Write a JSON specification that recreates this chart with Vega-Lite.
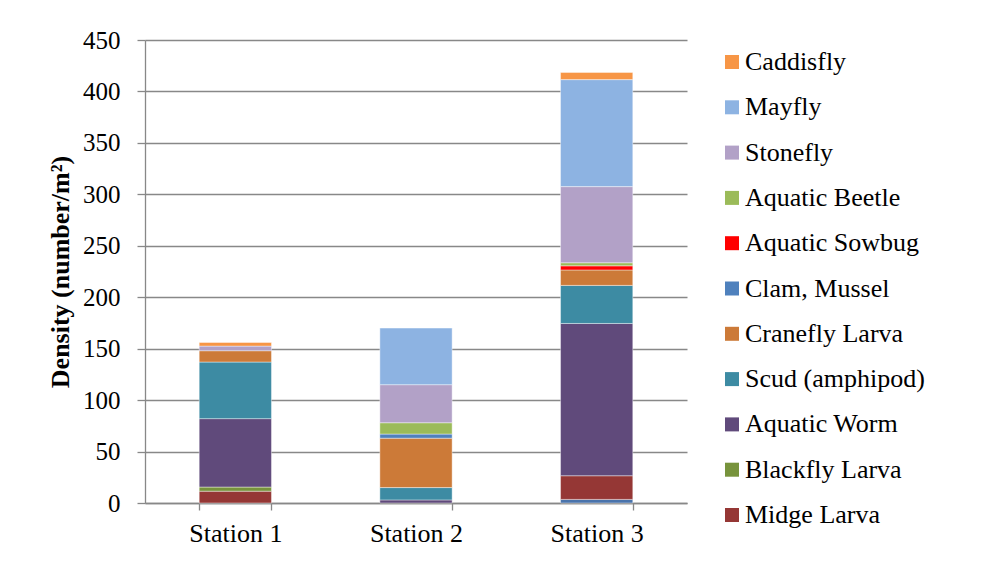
{
  "$schema": "https://vega.github.io/schema/vega-lite/v6.json",
  "width": 542,
  "height": 463,
  "autosize": {"type": "none"},
  "padding": {"left": 145, "top": 40, "right": 307, "bottom": 58},
  "background": "white",
  "data": {
    "values": [
      {"station": "Station 1", "taxon": "Midge Larva", "density": 11.5},
      {"station": "Station 1", "taxon": "Blackfly Larva", "density": 4},
      {"station": "Station 1", "taxon": "Aquatic Worm", "density": 66.5},
      {"station": "Station 1", "taxon": "Scud (amphipod)", "density": 55},
      {"station": "Station 1", "taxon": "Cranefly Larva", "density": 11},
      {"station": "Station 1", "taxon": "Stonefly", "density": 4.5},
      {"station": "Station 1", "taxon": "Caddisfly", "density": 3.5},
      {"station": "Station 2", "taxon": "Aquatic Worm", "density": 3},
      {"station": "Station 2", "taxon": "Scud (amphipod)", "density": 12},
      {"station": "Station 2", "taxon": "Cranefly Larva", "density": 48},
      {"station": "Station 2", "taxon": "Clam, Mussel", "density": 4},
      {"station": "Station 2", "taxon": "Aquatic Beetle", "density": 11},
      {"station": "Station 2", "taxon": "Stonefly", "density": 37},
      {"station": "Station 2", "taxon": "Mayfly", "density": 55},
      {"station": "Station 3", "taxon": "Other", "density": 3.5},
      {"station": "Station 3", "taxon": "Midge Larva", "density": 23},
      {"station": "Station 3", "taxon": "Aquatic Worm", "density": 148},
      {"station": "Station 3", "taxon": "Scud (amphipod)", "density": 37},
      {"station": "Station 3", "taxon": "Cranefly Larva", "density": 15},
      {"station": "Station 3", "taxon": "Aquatic Sowbug", "density": 4},
      {"station": "Station 3", "taxon": "Aquatic Beetle", "density": 3},
      {"station": "Station 3", "taxon": "Stonefly", "density": 74},
      {"station": "Station 3", "taxon": "Mayfly", "density": 104},
      {"station": "Station 3", "taxon": "Caddisfly", "density": 7}
    ]
  },
  "transform": [
    {"calculate": "indexof(['Other','Midge Larva','Blackfly Larva','Aquatic Worm','Scud (amphipod)','Cranefly Larva','Clam, Mussel','Aquatic Sowbug','Aquatic Beetle','Stonefly','Mayfly','Caddisfly'], datum.taxon)", "as": "stackRank"}
  ],
  "mark": {"type": "bar", "stroke": "#ffffff", "strokeWidth": 0.6, "strokeOpacity": 0.7},
  "encoding": {
    "x": {
      "field": "station",
      "type": "nominal",
      "scale": {"paddingInner": 0.6, "paddingOuter": 0.3},
      "axis": {
        "title": null,
        "labelAngle": 0,
        "tickBand": "extent",
        "tickSize": 7,
        "tickColor": "#888888",
        "tickWidth": 1.3,
        "domainColor": "#888888",
        "domainWidth": 1.3,
        "labelFont": "Liberation Serif",
        "labelFontSize": 26,
        "labelColor": "#000000",
        "labelPadding": 10,
        "grid": false
      }
    },
    "y": {
      "field": "density",
      "type": "quantitative",
      "stack": "zero",
      "scale": {"domain": [0, 450], "nice": false},
      "axis": {
        "title": "Density (number/m²)",
        "titleFont": "Liberation Serif",
        "titleFontSize": 26,
        "titleFontWeight": "bold",
        "titleColor": "#000000",
        "titlePadding": 9,
        "values": [0, 50, 100, 150, 200, 250, 300, 350, 400, 450],
        "labelFont": "Liberation Serif",
        "labelFontSize": 25,
        "labelColor": "#000000",
        "labelPadding": 17,
        "tickSize": 8,
        "tickColor": "#888888",
        "tickWidth": 1.3,
        "domainColor": "#888888",
        "domainWidth": 1.3,
        "grid": true,
        "gridColor": "#888888",
        "gridWidth": 1.3
      }
    },
    "color": {
      "field": "taxon",
      "type": "nominal",
      "scale": {
        "domain": ["Caddisfly", "Mayfly", "Stonefly", "Aquatic Beetle", "Aquatic Sowbug", "Clam, Mussel", "Cranefly Larva", "Scud (amphipod)", "Aquatic Worm", "Blackfly Larva", "Midge Larva", "Other"],
        "range": ["#F79646", "#8DB3E2", "#B2A1C7", "#9BBB59", "#FF0000", "#4F81BD", "#CC7A38", "#3D8BA3", "#604A7B", "#77933C", "#953735", "#4A74AC"]
      },
      "legend": {
        "title": null,
        "orient": "none",
        "legendX": 574,
        "legendY": 9,
        "values": ["Caddisfly", "Mayfly", "Stonefly", "Aquatic Beetle", "Aquatic Sowbug", "Clam, Mussel", "Cranefly Larva", "Scud (amphipod)", "Aquatic Worm", "Blackfly Larva", "Midge Larva"],
        "symbolType": "square",
        "symbolSize": 196,
        "symbolStrokeWidth": 0,
        "symbolOpacity": 1,
        "labelFont": "Liberation Serif",
        "labelFontSize": 26,
        "labelColor": "#000000",
        "labelOffset": 0,
        "rowPadding": 19.3,
        "labelLimit": 300
      }
    },
    "order": {"field": "stackRank", "type": "quantitative", "sort": "ascending"}
  },
  "config": {
    "view": {"stroke": null},
    "axis": {"labelFontWeight": "normal"}
  }
}
